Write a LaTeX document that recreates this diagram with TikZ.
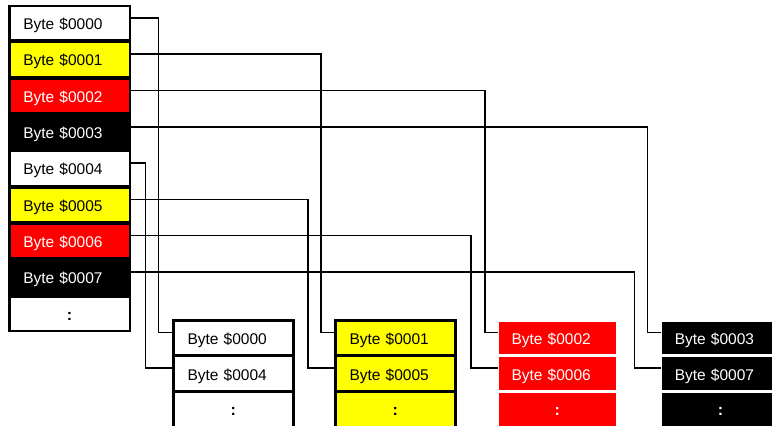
\documentclass[tikz,border=0pt]{standalone}
\usepackage{fontspec}
\setmainfont{Liberation Sans}
\definecolor{pyellow}{RGB}{255,255,0}
\definecolor{pred}{RGB}{255,0,0}
\begin{document}
\begin{tikzpicture}[x=1pt,y=1pt,
  txt/.style={font=\fontsize{15.5}{18}\selectfont, text height=16pt, text depth=3pt},
  lcell/.style={txt, inner xsep=12.8pt, inner ysep=0pt, minimum width=118pt, minimum height=32.3pt, text width=92.4pt, align=left, outer sep=0pt},
  bcell/.style={txt, inner xsep=14pt, inner ysep=0pt, minimum width=119.5pt, minimum height=35.6pt, text width=91.5pt, align=left, outer sep=0pt, line width=3pt},
  dotc/.style={align=center, font=\fontsize{16}{18}\selectfont\bfseries},
  wcell/.style={fill=white, text=black},
  ycell/.style={fill=pyellow, text=black},
  rcell/.style={fill=pred, text=white},
  kcell/.style={fill=black, text=white},
  conn/.style={draw=black, line width=1.5pt}
]
\useasboundingbox (0,0) rectangle (772,426);
\clip (0,0) rectangle (772,426);
\fill[white] (0,0) rectangle (772,426);

% left column frame
\fill[black] (8,421) rectangle (131,94);
\node[lcell,wcell] (L0) at (69.5,402.83) {Byte \$0000};
\node[lcell,ycell] (L1) at (69.5,366.50) {Byte \$0001};
\node[lcell,rcell] (L2) at (69.5,330.17) {Byte \$0002};
\node[lcell,kcell] (L3) at (69.5,293.84) {Byte \$0003};
\node[lcell,wcell] (L4) at (69.5,257.51) {Byte \$0004};
\node[lcell,ycell] (L5) at (69.5,221.18) {Byte \$0005};
\node[lcell,rcell] (L6) at (69.5,184.85) {Byte \$0006};
\node[lcell,kcell] (L7) at (69.5,148.52) {Byte \$0007};
\node[lcell,wcell,dotc] (L8) at (69.5,112.19) {:};

% bottom columns
\node[bcell,wcell,draw=black] (W0) at (233.25,87.9) {Byte \$0000};
\node[bcell,wcell,draw=black] (W1) at (233.25,52.3) {Byte \$0004};
\node[bcell,wcell,draw=black,dotc] (W2) at (233.25,16.7) {:};

\node[bcell,ycell,draw=black] (Y0) at (395.25,87.9) {Byte \$0001};
\node[bcell,ycell,draw=black] (Y1) at (395.25,52.3) {Byte \$0005};
\node[bcell,ycell,draw=black,dotc] (Y2) at (395.25,16.7) {:};

\node[bcell,rcell,draw=white] (R0) at (557.25,87.9) {Byte \$0002};
\node[bcell,rcell,draw=white] (R1) at (557.25,52.3) {Byte \$0006};
\node[bcell,rcell,draw=white,dotc] (R2) at (557.25,16.7) {:};

\node[bcell,kcell,draw=white] (K0) at (720.55,87.9) {Byte \$0003};
\node[bcell,kcell,draw=white] (K1) at (720.55,52.3) {Byte \$0007};
\node[bcell,kcell,draw=white,dotc] (K2) at (720.55,16.7) {:};

% connectors
\draw[conn] ([xshift=2.5pt,yshift=5.4pt]L0.east) -- ++(27.3,0) |- ([yshift=5.8pt]W0.west);
\draw[conn] ([xshift=2.5pt,yshift=5.4pt]L4.east) -- ++(14.5,0) |- ([yshift=5.8pt]W1.west);
\draw[conn] ([xshift=2.5pt,yshift=5.4pt]L1.east) -- ++(190,0) |- ([yshift=5.8pt]Y0.west);
\draw[conn] ([xshift=2.5pt,yshift=5.4pt]L5.east) -- ++(177,0) |- ([yshift=5.8pt]Y1.west);
\draw[conn] ([xshift=2.5pt,yshift=5.4pt]L2.east) -- ++(354,0) |- ([yshift=5.8pt]R0.west);
\draw[conn] ([xshift=2.5pt,yshift=5.4pt]L6.east) -- ++(340,0) |- ([yshift=5.8pt]R1.west);
\draw[conn] ([xshift=2.5pt,yshift=5.4pt]L3.east) -- ++(516.7,0) |- ([yshift=5.8pt]K0.west);
\draw[conn] ([xshift=2.5pt,yshift=5.4pt]L7.east) -- ++(503.3,0) |- ([yshift=5.8pt]K1.west);
\end{tikzpicture}
\end{document}
